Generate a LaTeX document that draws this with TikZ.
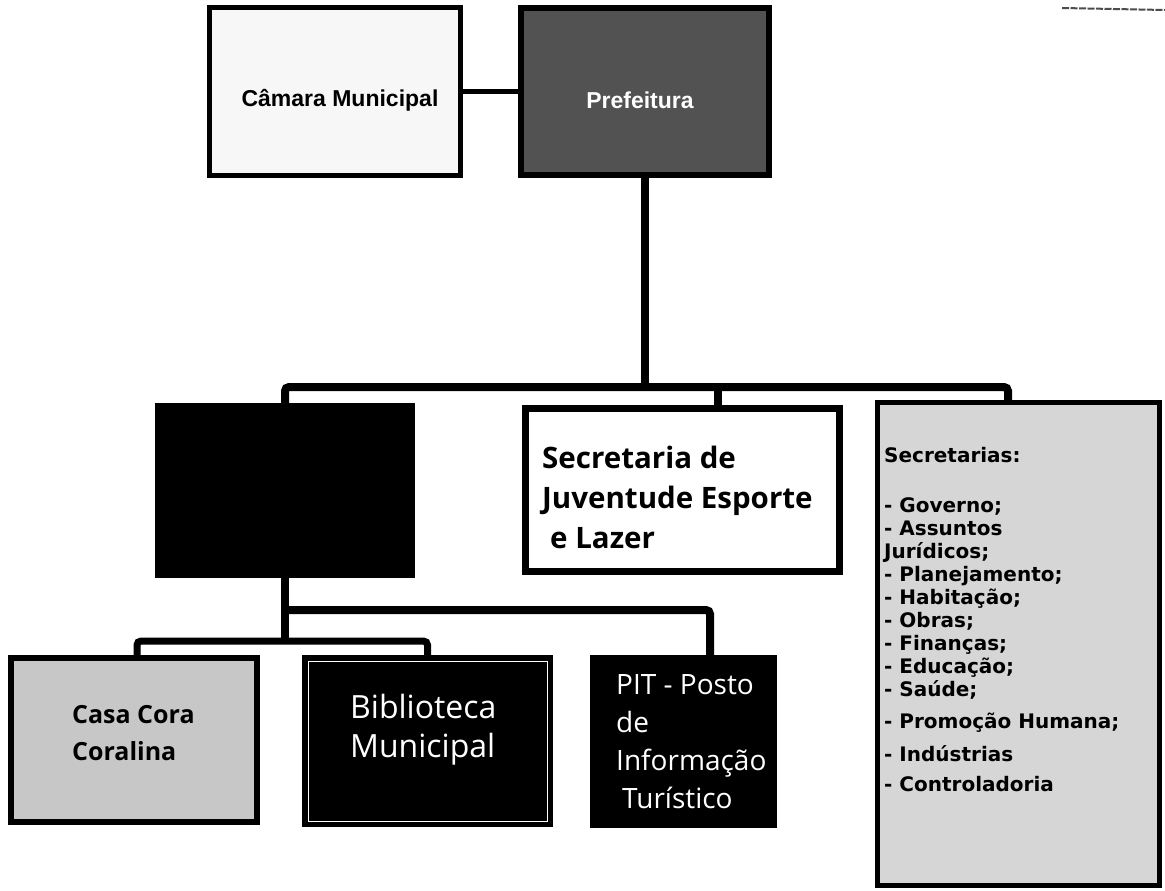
\documentclass[tikz,border=0pt]{standalone}
\usepackage{fontspec}
\setmainfont{Liberation Sans}
\newfontfamily\osans{Open Sans}
\newfontfamily\djv{DejaVu Sans}
\begin{document}
\begin{tikzpicture}[x=1pt,y=-1pt,
  boxnode/.style={draw=black, inner sep=0pt, anchor=center},
  bus/.style={line width=8pt, draw=black, rounded corners=4pt},
  thinlink/.style={line width=4pt, draw=black},
  lbl/.style={inner sep=0pt, anchor=base west}]
\useasboundingbox[fill=white] (0,0) rectangle (1165,891);

% top level
\node[boxnode, line width=5pt, fill=black!3, minimum width=251pt, minimum height=168pt] (camara) at (335,91.5) {};
\node[boxnode, line width=6pt, fill=black!68, minimum width=248pt, minimum height=167pt] (pref) at (645,91.5) {};
\node[inner sep=0pt] (camaratxt) at (340,100) {\fontsize{23}{26}\selectfont\bfseries Câmara Municipal};
\node[inner sep=0pt, text=white] (preftxt) at (640,100) {\fontsize{23}{26}\selectfont\bfseries Prefeitura};

% second level
\node[boxnode, line width=1pt, fill=black, minimum width=259pt, minimum height=174pt] (blk) at (285,490.5) {};
\node[boxnode, line width=7pt, fill=white, minimum width=314pt, minimum height=163pt] (sjel) at (682.5,490) {};
\node[boxnode, line width=5pt, fill=black!16, minimum width=282pt, minimum height=483pt] (secs) at (1018.5,644) {};

\node[lbl] (sjeltxt) at (542,468) {\osans\bfseries\fontsize{29.5}{40}\selectfont
  \begin{tabular}[t]{@{}l@{}}Secretaria de\\Juventude Esporte\\\hspace{8pt}e Lazer\end{tabular}};

\node[lbl] (secstxt) at (884,462) {\djv\bfseries\fontsize{20}{23}\selectfont
  \begin{tabular}[t]{@{}l@{}}Secretarias:\\[27pt]
  - Governo;\\- Assuntos\\Jurídicos;\\- Planejamento;\\- Habitação;\\- Obras;\\- Finanças;\\- Educação;\\- Saúde;\\[9pt]- Promoção Humana;\\[10pt]- Indústrias\\[7pt]- Controladoria\end{tabular}};

% third level
\node[boxnode, line width=6pt, fill=black!22, minimum width=246pt, minimum height=164pt] (casa) at (134,740) {};
\node[boxnode, line width=1pt, fill=black, minimum width=250pt, minimum height=171pt] (bib) at (427.5,741) {};
\draw[white, line width=1pt] ([shift={(6,6)}]bib.north west) rectangle ([shift={(-6,-6)}]bib.south east);
\node[boxnode, line width=1pt, fill=black, minimum width=186pt, minimum height=172pt] (pit) at (683.5,741.5) {};

\node[lbl] (casatxt) at (72,723) {\osans\bfseries\fontsize{25}{37}\selectfont
  \begin{tabular}[t]{@{}l@{}}Casa Cora\\Coralina\end{tabular}};
\node[lbl, text=white] (bibtxt) at (350,718) {\osans\fontsize{32}{39}\selectfont
  \begin{tabular}[t]{@{}l@{}}Biblioteca\\Municipal\end{tabular}};
\node[lbl, text=white] (pittxt) at (616,694) {\osans\fontsize{28}{38}\selectfont
  \begin{tabular}[t]{@{}l@{}}PIT - Posto\\de\\Informação\\\hspace{6pt}Turístico\end{tabular}};

% connectors
\coordinate (b1) at (645,387);
\coordinate (b2) at (285,610);
\coordinate (b3) at (285,641);
\coordinate (sjdrop) at ([xshift=35.5pt]sjel.north);
\coordinate (secdrop) at ([xshift=-10.5pt]secs.north);
\coordinate (pitdrop) at ([xshift=26.5pt]pit.north);
\coordinate (casadrop) at ([xshift=3pt]casa.north);
\draw[thinlink] (camara.east) -- (pref.west);
\draw[bus] (pref.south) -- (b1);
\draw[bus] (blk.north) |- (b1) -| (secdrop);
\draw[bus] (b1 -| sjdrop) -- (sjdrop);
\draw[bus] (blk.south) -- (b3);
\draw[bus] (b2) -| (pitdrop);
\draw[bus, line width=7pt] (casadrop) |- (b3) -| (bib.north);

% scan mark top right
\draw[black!70, line width=2pt, dash pattern=on 7pt off 1.5pt] (1062,8) -- (1165,10);
\end{tikzpicture}
\end{document}
